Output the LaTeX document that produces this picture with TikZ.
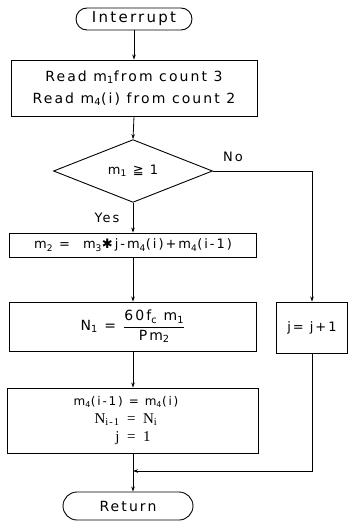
\documentclass[tikz,border=0pt]{standalone}
\usepackage{fontspec}
\usepackage{amsmath}
\setmainfont{DejaVu Sans}[LetterSpace=15]
\newfontfamily\serifN{Liberation Serif}[LetterSpace=10]
\usetikzlibrary{shapes.geometric,arrows.meta,calc}
\newcommand{\sub}[1]{\textsubscript{#1}}
\begin{document}
\begin{tikzpicture}[x=1pt,y=-1pt,
  box/.style={draw,line width=0.9pt,inner sep=0pt,align=center},
  term/.style={draw,line width=0.9pt,inner sep=0pt},
  cond/.style={draw,diamond,line width=0.9pt,inner sep=0pt},
  flow/.style={line width=0.8pt,-{Stealth[length=5pt,width=3.5pt]}},
  lbl/.style={inner sep=0pt,font=\fontsize{13}{15}\selectfont}]
\useasboundingbox (0,0) rectangle (348,522);

% terminals
\node[term,rounded corners=11pt,minimum width=116pt,minimum height=22pt,
      font=\fontsize{15}{17}\selectfont] (intr) at (134,19) {Interrupt};
\node[term,rounded corners=14pt,minimum width=130pt,minimum height=28pt,
      font=\fontsize{14}{16}\selectfont] (ret) at (128,506) {Return};

% process boxes
\node[box,minimum width=246pt,minimum height=56pt,
      font=\fontsize{14}{22}\selectfont] (read) at (134,88)
  {Read m\sub{1}from count 3\\Read m\sub{4}(i) from count 2};
\node[cond,minimum width=159pt,minimum height=51pt,
      font=\fontsize{13}{15}\selectfont] (dec) at (133,171)
  {\raisebox{3pt}{m\sub{1} ≧ 1}};
\node[box,minimum width=247pt,minimum height=24pt,
      font=\fontsize{13}{15}\selectfont] (m2) at (133,245)
  {m\sub{2} =\quad m\sub{3}✱j-m\sub{4}(i)+m\sub{4}(i-1)};
\node[box,minimum width=247pt,minimum height=49pt,
      font=\fontsize{14}{16}\selectfont] (n1) at (133,326.5)
  {N\sub{1} =\enspace $\dfrac{\text{60f\sub{c} m\sub{1}}}{\text{Pm\sub{2}}}$};
\node[box,minimum width=251pt,minimum height=65pt,
      font=\fontsize{12}{18}\selectfont] (fin) at (133,420.5)
  {\hspace*{-14pt}m\sub{4}(i-1)\enspace=\enspace m\sub{4}(i)\\
   \hspace*{-14pt}{\serifN\fontsize{15}{18}\selectfont N\sub{i-1}\enspace=\enspace N\sub{i}}\\
   {\serifN\fontsize{15}{18}\selectfont j\enspace=\enspace 1}};
\node[box,minimum width=71pt,minimum height=51pt,
      font=\fontsize{13}{15}\selectfont] (jj) at (312,327.5) {j= j+1};

% branch labels
\node[lbl] at (233,157) {No};
\node[lbl] at (107,218) {Yes};

% merge point of the loop
\coordinate (mg) at (133,471);

% connectors
\draw[flow] (intr.south) -- (read.north);
\draw[flow] (read.south) -- (dec.north);
\draw[flow] (dec.south) -- (m2.north);
\draw[flow] (m2.south) -- (n1.north);
\draw[flow] (n1.south) -- (fin.north);
\draw[flow] (dec.east) -| (jj.north);
\draw[flow] (jj.south) |- (mg);
\draw[flow] (fin.south) -- (fin.south |- ret.north);
\end{tikzpicture}
\end{document}
